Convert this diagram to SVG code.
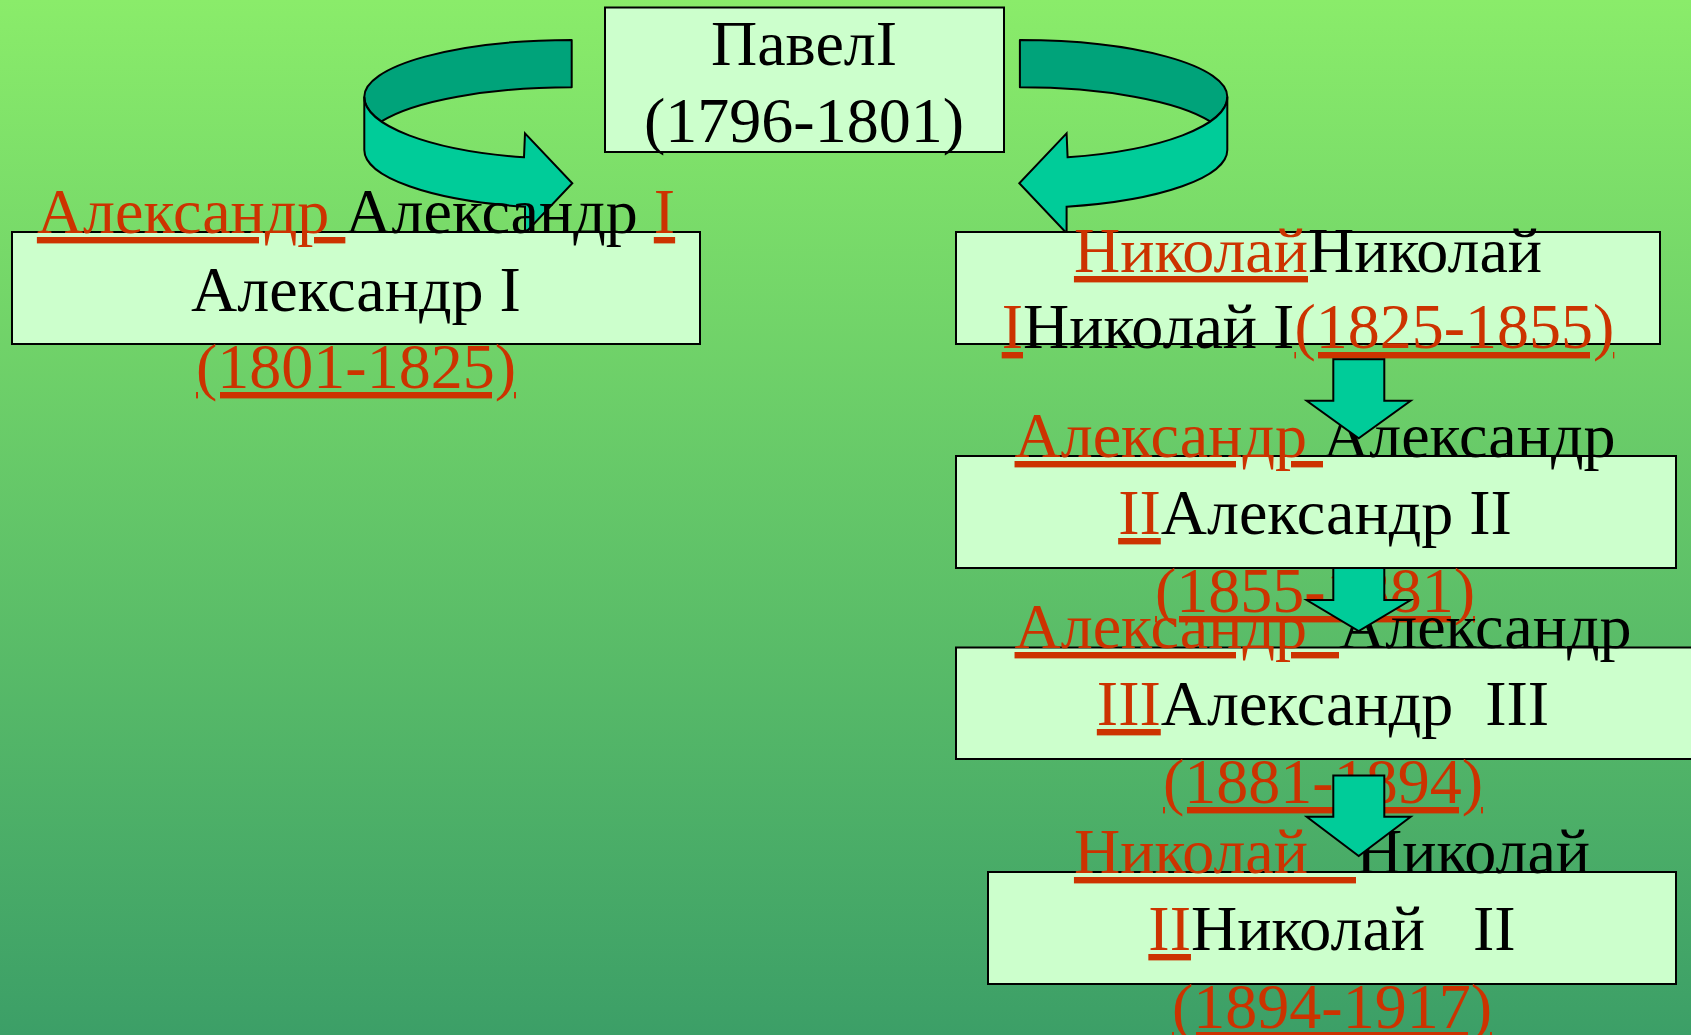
<svg xmlns="http://www.w3.org/2000/svg" width="1691" height="1035" viewBox="0 0 1691 1035">
<defs>
<linearGradient id="bg" x1="0" y1="0" x2="0" y2="1">
<stop offset="0" stop-color="#8AEC6A"/>
<stop offset="1" stop-color="#3C9F67"/>
</linearGradient>
<g id="curved">
<path class="dark" d="M571.7,40 A207.4,56.7 0 0 0 364.3,96.7 A207.4,62.3 0 0 0 381,121.7 A207.4,56.7 0 0 1 571.7,87.3 Z"/>
<path class="light" d="M364.3,96.7 A207.4,62.3 0 0 0 524,157.3 L525,133.3 L572.3,183.3 L525,233.3 L525,206.7 A207.4,58.2 0 0 1 364.3,150 Z"/>
</g>
</defs>
<style>
.box { fill: #CCFFCC; stroke: #000; stroke-width: 2; }
.t { font-family: "Liberation Serif", "Times New Roman", serif; font-size: 64px; fill: #000; white-space: pre; text-anchor: middle; }
.r { fill: #CC3300; text-decoration: underline; text-decoration-thickness: 5px; text-underline-offset: 5px; text-decoration-skip-ink: none; }
.dark { fill: #00A37A; stroke: #000; stroke-width: 2; stroke-linejoin: round; }
.light { fill: #00CC99; stroke: #000; stroke-width: 2; stroke-linejoin: miter; }
</style>
<rect x="0" y="0" width="1691" height="1035" fill="url(#bg)"/>
<g id="connectors-curved">
<use href="#curved"/>
<use href="#curved" transform="matrix(-1 0 0 1 1591.6 0)"/>
</g>
<g id="node-pavel">
<rect class="box" x="605" y="7.5" width="399" height="144.5"/>
<text class="t" x="804" y="65">ПавелI</text>
<text class="t" x="804" y="142">(1796-1801)</text>
</g>
<g id="node-alexander1">
<rect class="box" x="12" y="232" width="688" height="112"/>
<text class="t" x="356" y="233"><tspan class="r">Александр </tspan>Александр <tspan class="r">I</tspan></text>
<text class="t" x="356" y="311">Александр I</text>
<text class="t" x="356" y="388"><tspan class="r">(1801-1825)</tspan></text>
</g>
<g id="node-nikolai1">
<rect class="box" x="956" y="232" width="704" height="112"/>
<text class="t" x="1308" y="272"><tspan class="r">Николай</tspan>Николай</text>
<text class="t" x="1308" y="348"><tspan class="r">I</tspan>Николай I<tspan class="r">(1825-1855)</tspan></text>
</g>
<g id="node-alexander2">
<rect class="box" x="956" y="456" width="720" height="112"/>
<text class="t" x="1315" y="457"><tspan class="r">Александр </tspan>Александр</text>
<text class="t" x="1315" y="534"><tspan class="r">II</tspan>Александр II</text>
<text class="t" x="1315" y="612"><tspan class="r">(1855-1881)</tspan></text>
</g>
<g id="node-alexander3">
<rect class="box" x="956" y="647.5" width="740" height="111.5"/>
<text class="t" x="1323" y="648"><tspan class="r">Александр  </tspan>Александр</text>
<text class="t" x="1323" y="725"><tspan class="r">III</tspan>Александр  III</text>
<text class="t" x="1323" y="803"><tspan class="r">(1881-1894)</tspan></text>
</g>
<g id="node-nikolai2">
<rect class="box" x="988" y="872" width="688" height="112"/>
<text class="t" x="1332" y="873"><tspan class="r">Николай   </tspan>Николай</text>
<text class="t" x="1332" y="950"><tspan class="r">II</tspan>Николай   II</text>
<text class="t" x="1332" y="1028"><tspan class="r">(1894-1917)</tspan></text>
</g>
<g id="connectors">
<polygon class="light" points="1333.3,359.3 1384.3,359.3 1384.3,400.7 1410.7,400.7 1358.7,438.3 1306.7,400.7 1333.3,400.7"/>
<polygon class="light" points="1333.3,568 1384.3,568 1384.3,600 1410.7,600 1358.7,631 1306.7,600 1333.3,600"/>
<polygon class="light" points="1333.3,775.5 1384.3,775.5 1384.3,816.7 1410.7,816.7 1358.7,856 1306.7,816.7 1333.3,816.7"/>
</g>
</svg>
